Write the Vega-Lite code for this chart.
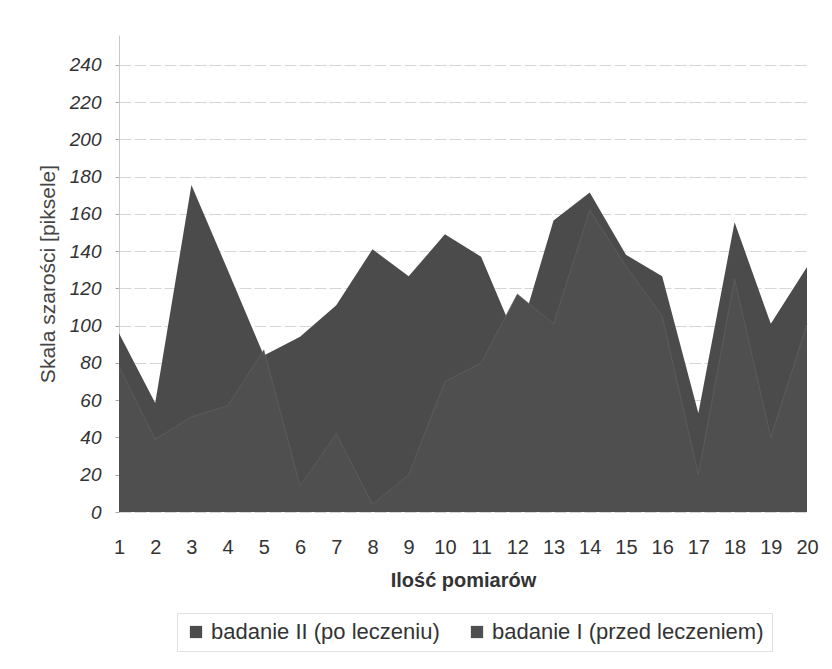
{
  "$schema": "https://vega.github.io/schema/vega-lite/v6.json",
  "width": 688,
  "height": 477,
  "autosize": {"type": "none"},
  "padding": {"left": 119, "top": 35, "right": 25, "bottom": 157},
  "background": "white",
  "config": {"view": {"stroke": null}, "font": "Liberation Sans"},
  "data": {
    "values": [
      {"x": 1, "value": 96, "series": "badanie II (po leczeniu)"},
      {"x": 2, "value": 58.5, "series": "badanie II (po leczeniu)"},
      {"x": 3, "value": 175.5, "series": "badanie II (po leczeniu)"},
      {"x": 4, "value": 130, "series": "badanie II (po leczeniu)"},
      {"x": 5, "value": 84, "series": "badanie II (po leczeniu)"},
      {"x": 6, "value": 94, "series": "badanie II (po leczeniu)"},
      {"x": 7, "value": 111, "series": "badanie II (po leczeniu)"},
      {"x": 8, "value": 141, "series": "badanie II (po leczeniu)"},
      {"x": 9, "value": 126.5, "series": "badanie II (po leczeniu)"},
      {"x": 10, "value": 149, "series": "badanie II (po leczeniu)"},
      {"x": 11, "value": 137, "series": "badanie II (po leczeniu)"},
      {"x": 12, "value": 91, "series": "badanie II (po leczeniu)"},
      {"x": 13, "value": 156.5, "series": "badanie II (po leczeniu)"},
      {"x": 14, "value": 171.5, "series": "badanie II (po leczeniu)"},
      {"x": 15, "value": 138, "series": "badanie II (po leczeniu)"},
      {"x": 16, "value": 126.5, "series": "badanie II (po leczeniu)"},
      {"x": 17, "value": 53, "series": "badanie II (po leczeniu)"},
      {"x": 18, "value": 155.5, "series": "badanie II (po leczeniu)"},
      {"x": 19, "value": 101, "series": "badanie II (po leczeniu)"},
      {"x": 20, "value": 131.5, "series": "badanie II (po leczeniu)"},
      {"x": 1, "value": 78, "series": "badanie I (przed leczeniem)"},
      {"x": 2, "value": 39, "series": "badanie I (przed leczeniem)"},
      {"x": 3, "value": 51, "series": "badanie I (przed leczeniem)"},
      {"x": 4, "value": 57, "series": "badanie I (przed leczeniem)"},
      {"x": 5, "value": 87, "series": "badanie I (przed leczeniem)"},
      {"x": 6, "value": 14, "series": "badanie I (przed leczeniem)"},
      {"x": 7, "value": 42, "series": "badanie I (przed leczeniem)"},
      {"x": 8, "value": 4, "series": "badanie I (przed leczeniem)"},
      {"x": 9, "value": 20, "series": "badanie I (przed leczeniem)"},
      {"x": 10, "value": 70, "series": "badanie I (przed leczeniem)"},
      {"x": 11, "value": 80, "series": "badanie I (przed leczeniem)"},
      {"x": 12, "value": 117, "series": "badanie I (przed leczeniem)"},
      {"x": 13, "value": 101, "series": "badanie I (przed leczeniem)"},
      {"x": 14, "value": 162, "series": "badanie I (przed leczeniem)"},
      {"x": 15, "value": 132, "series": "badanie I (przed leczeniem)"},
      {"x": 16, "value": 105, "series": "badanie I (przed leczeniem)"},
      {"x": 17, "value": 20, "series": "badanie I (przed leczeniem)"},
      {"x": 18, "value": 125, "series": "badanie I (przed leczeniem)"},
      {"x": 19, "value": 40, "series": "badanie I (przed leczeniem)"},
      {"x": 20, "value": 101, "series": "badanie I (przed leczeniem)"}
    ]
  },
  "encoding": {
    "x": {
      "field": "x",
      "type": "quantitative",
      "scale": {"domain": [1, 20], "nice": false, "zero": false},
      "axis": {
        "values": [1,2,3,4,5,6,7,8,9,10,11,12,13,14,15,16,17,18,19,20],
        "title": "Ilość pomiarów",
        "grid": false,
        "domain": false,
        "ticks": false,
        "labelPadding": 25,
        "labelFontSize": 20,
        "labelColor": "#333333",
        "labelFlush": false,
        "titleFontSize": 20,
        "titleFontWeight": "bold",
        "titleColor": "#333333",
        "titlePadding": 13
      }
    },
    "y": {
      "field": "value",
      "type": "quantitative",
      "stack": null,
      "scale": {"domain": [0, 256], "nice": false},
      "axis": {
        "values": [0,20,40,60,80,100,120,140,160,180,200,220,240],
        "title": "Skala szarości [piksele]",
        "grid": true,
        "gridColor": "#d6d6d6",
        "gridDash": [12, 3],
        "domainColor": "#c8c8c8",
        "tickColor": "#aaaaaa",
        "tickSize": 4,
        "labelFontStyle": "italic",
        "labelFontSize": 19,
        "labelColor": "#333333",
        "labelPadding": 14,
        "titleFontSize": 21,
        "titleFontWeight": "normal",
        "titleColor": "#444444",
        "titlePadding": 11
      }
    },
    "color": {
      "field": "series",
      "type": "nominal",
      "scale": {
        "domain": ["badanie II (po leczeniu)", "badanie I (przed leczeniem)"],
        "range": ["#4b4b4b", "#4f4f4f"]
      },
      "legend": {
        "orient": "none",
        "legendX": 58,
        "legendY": 578,
        "direction": "horizontal",
        "title": null,
        "symbolType": "square",
        "symbolSize": 150,
        "symbolOpacity": 1,
        "symbolStrokeWidth": 0,
        "labelFontSize": 22,
        "labelLimit": 500,
        "labelColor": "#333333",
        "labelOffset": 4,
        "columnPadding": 26,
        "padding": 8,
        "strokeColor": "#e0e0e0"
      }
    }
  },
  "layer": [
    {
      "transform": [{"filter": "datum.series === 'badanie II (po leczeniu)'"}],
      "mark": {"type": "area", "opacity": 1}
    },
    {
      "transform": [{"filter": "datum.series === 'badanie I (przed leczeniem)'"}],
      "mark": {"type": "area", "opacity": 1}
    },
    {
      "transform": [{"filter": "datum.series === 'badanie I (przed leczeniem)'"}],
      "mark": {"type": "line", "strokeWidth": 1, "opacity": 0.6},
      "encoding": {"color": {"value": "#666666"}}
    }
  ]
}
